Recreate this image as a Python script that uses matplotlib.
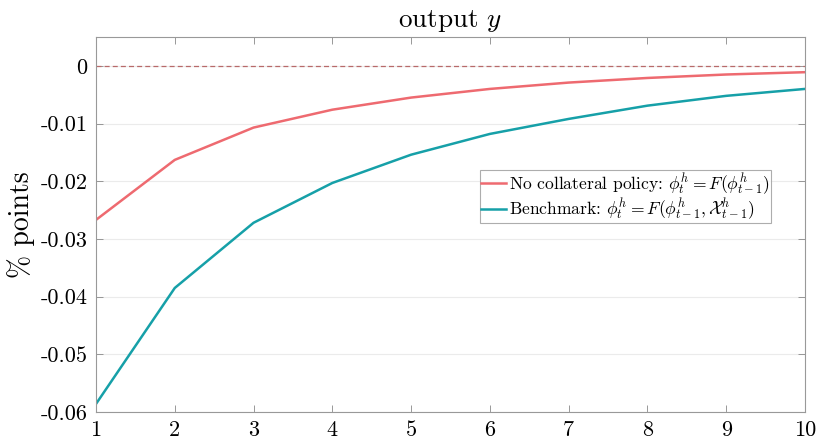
import numpy as np
import matplotlib
matplotlib.use("Agg")
import matplotlib.pyplot as plt

plt.rcParams["font.family"] = "cmr10"
plt.rcParams["mathtext.fontset"] = "cm"
plt.rcParams["axes.unicode_minus"] = False
plt.rcParams["axes.formatter.use_mathtext"] = True

horizon = np.arange(1, 11)
no_collateral = [-0.0267, -0.0163, -0.0107, -0.0076, -0.0055, -0.0040, -0.0029, -0.0021, -0.0015, -0.0011]
benchmark = [-0.0586, -0.0385, -0.0272, -0.0203, -0.0154, -0.0118, -0.0092, -0.0069, -0.0052, -0.0040]
yticks = [0, -0.01, -0.02, -0.03, -0.04, -0.05, -0.06]
ytick_labels = ["0", "-0.01", "-0.02", "-0.03", "-0.04", "-0.05", "-0.06"]

fig = plt.figure(figsize=(8.18, 4.44), dpi=100)
ax = fig.add_axes([96 / 818, 32 / 444, 709 / 818, 375 / 444])

ax.axhline(0, color="#b86a6a", lw=0.9, ls=(0, (4, 2.5)), zorder=1)
ax.plot(horizon, no_collateral, color="#ee6a70", lw=1.8,
        label=r"No collateral policy: $\phi_t^h = F(\phi_{t-1}^h)$")
ax.plot(horizon, benchmark, color="#16a0a8", lw=1.8,
        label=r"Benchmark: $\phi_t^h = F(\phi_{t-1}^h, \mathcal{X}_{t-1}^h)$")

ax.set_xlim(1, 10)
ax.set_ylim(-0.06, 0.005)
ax.set_xticks(horizon)
ax.set_xticklabels([str(h) for h in horizon])
ax.set_yticks(yticks)
ax.set_yticklabels(ytick_labels)
ax.tick_params(direction="in", length=5, width=0.6, color="#888888",
               labelsize=16, top=True, right=True, pad=6)
ax.grid(axis="y", color="#ebebeb", lw=0.8)
ax.set_axisbelow(True)
for s in ax.spines.values():
    s.set_color("#999999")
    s.set_linewidth(0.8)

ax.set_title(r"output $y$", fontsize=19.5, pad=7)
ax.set_ylabel("% points", fontsize=20, labelpad=4)

leg = ax.legend(loc="upper left", bbox_to_anchor=(0.542, 0.645), fontsize=12.6,
                frameon=True, fancybox=False, handlelength=1.4, handletextpad=0.2,
                borderpad=0.05, labelspacing=0.0, borderaxespad=0)
leg.get_frame().set_edgecolor("#999999")
leg.get_frame().set_linewidth(0.8)

fig.savefig("out.png", dpi=100)
